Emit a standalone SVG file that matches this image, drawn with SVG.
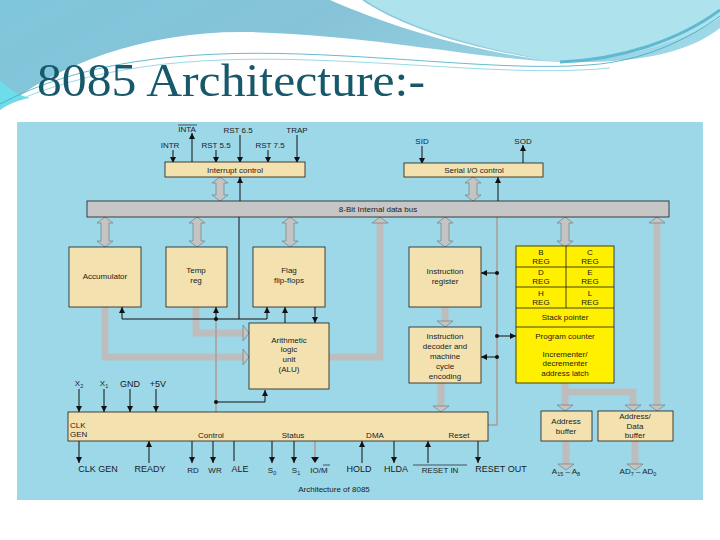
<svg xmlns="http://www.w3.org/2000/svg" width="720" height="540" viewBox="0 0 720 540">
<style>
.t{font-family:"Liberation Sans",Arial,sans-serif;font-size:9px;fill:#1a1a1a}
.s{font-family:"Liberation Sans",Arial,sans-serif;font-size:8px;fill:#1a1a1a}
.m{text-anchor:middle}
.box{fill:#f3e2b0;stroke:#1a1a1a;stroke-width:0.8}
.reg{fill:#fff000;stroke:#1a1a1a;stroke-width:0.8}
.ln{stroke:#111;stroke-width:1;fill:none}
.thk{stroke:#bdbdbd;stroke-width:7;fill:none}
.thn{stroke:#a9a9a9;stroke-width:2;fill:none}
.hd{fill:#c4c4c4;stroke:#707070;stroke-width:0.6}
</style>
<defs>
<linearGradient id="sky" x1="0" y1="0" x2="1" y2="0.3">
<stop offset="0" stop-color="#7fc6da"/>
<stop offset="0.45" stop-color="#86c3d8"/>
<stop offset="1" stop-color="#9fd8e6"/>
</linearGradient>
<marker id="ah" viewBox="0 0 10 10" refX="10" refY="5" markerWidth="6" markerHeight="6" orient="auto" markerUnits="userSpaceOnUse">
<path d="M0,0 L10,5 L0,10 Z" fill="#111"/>
</marker>
<path id="d30" class="hd" d="M0,0 L8,6 L4,6 L4,24 L8,24 L0,30 L-8,24 L-4,24 L-4,6 L-8,6 Z"/>
<path id="d24" class="hd" d="M0,0 L8,6 L4,6 L4,18 L8,18 L0,24 L-8,18 L-4,18 L-4,6 L-8,6 Z"/>
<path id="hdn" class="hd" d="M-8,-6 L8,-6 L0,0 Z"/>
<path id="hup" class="hd" d="M-8,6 L8,6 L0,0 Z"/>
<path id="hrt" class="hd" d="M-6,-8 L-6,8 L0,0 Z"/>
</defs>
<rect width="720" height="540" fill="#ffffff"/>
<path d="M0,0 L720,0 L720,28 C690,52 640,64 560,62 C470,58 380,36 250,32 C150,30 60,62 0,110 Z" fill="url(#sky)"/>
<path d="M0,80 C10,90 20,96 30,98 C18,100 8,104 0,110 Z" fill="#6fdcea"/>
<path d="M345,0 L720,0 L720,18 C680,44 620,60 560,62 C470,48 400,24 365,0 Z" fill="#aee3ee"/>
<path d="M330,0 C390,26 470,52 560,62 C470,50 400,26 362,0 Z" fill="#ffffff"/>
<path d="M560,62 C620,60 680,40 720,10" stroke="#5fb9d0" stroke-width="3" fill="none"/>
<path d="M0,104 C80,62 180,50 300,54 C420,58 520,72 600,64 C650,58 690,38 720,16" stroke="#3fa9c2" stroke-width="0.8" fill="none"/>
<path d="M0,108 C90,66 190,56 310,60 C430,64 530,76 610,68" stroke="#7fd0df" stroke-width="0.8" fill="none"/>
<text x="37" y="96" font-family="Liberation Serif, Times New Roman, serif" font-size="47" fill="#17596b" textLength="388" lengthAdjust="spacingAndGlyphs">8085 Architecture:-</text>

<rect x="17" y="122" width="686" height="378" fill="#9dd8e9"/>

<g id="connectors">
<line class="ln" x1="173" y1="150" x2="173" y2="163" marker-end="url(#ah)"/>
<line class="ln" x1="192" y1="163" x2="192" y2="133" marker-end="url(#ah)"/>
<line class="ln" x1="216" y1="150" x2="216" y2="163" marker-end="url(#ah)"/>
<line class="ln" x1="240" y1="135" x2="240" y2="163" marker-end="url(#ah)"/>
<line class="ln" x1="268" y1="150" x2="268" y2="163" marker-end="url(#ah)"/>
<line class="ln" x1="297" y1="135" x2="297" y2="163" marker-end="url(#ah)"/>
<line class="ln" x1="422" y1="146" x2="422" y2="164" marker-end="url(#ah)"/>
<line class="ln" x1="523" y1="164" x2="523" y2="145" marker-end="url(#ah)"/>
<use href="#d24" x="220" y="177"/>
<line class="ln" x1="240" y1="201" x2="240" y2="177" marker-end="url(#ah)"/>
<use href="#d24" x="473" y="177"/>
<line class="ln" x1="498" y1="201" x2="498" y2="177" marker-end="url(#ah)"/>
<use href="#d30" x="105" y="217"/>
<use href="#d30" x="197" y="217"/>
<use href="#d30" x="290" y="217"/>
<use href="#d30" x="445" y="217"/>
<use href="#d30" x="565" y="217"/>
<path class="thk" d="M329,357 H380 V222"/>
<use href="#hup" x="380" y="217"/>
<path class="thk" d="M105,307 V357 H243"/>
<use href="#hrt" x="249" y="357"/>
<path class="thk" d="M196,307 V333 H243"/>
<use href="#hrt" x="249" y="333"/>
<line class="ln" x1="239" y1="217" x2="239" y2="319"/>
<line class="ln" x1="122" y1="319" x2="267" y2="319"/>
<line class="ln" x1="122" y1="319" x2="122" y2="307" marker-end="url(#ah)"/>
<line class="ln" x1="216" y1="319" x2="216" y2="307" marker-end="url(#ah)"/>
<line class="ln" x1="267" y1="319" x2="267" y2="307" marker-end="url(#ah)"/>
<line class="thn" x1="216" y1="319" x2="216" y2="412"/>
<circle cx="216" cy="319" r="2" fill="#111"/>
<path class="ln" d="M216,402 H265 V390" marker-end="url(#ah)"/>
<circle cx="216" cy="402" r="2" fill="#111"/>
<line class="ln" x1="285" y1="323" x2="285" y2="307" marker-end="url(#ah)"/>
<line class="ln" x1="315" y1="307" x2="315" y2="323" marker-end="url(#ah)"/>
<line class="thk" x1="445" y1="307" x2="445" y2="321"/>
<use href="#hdn" x="445" y="327"/>
<line class="thk" x1="441" y1="383" x2="441" y2="406"/>
<use href="#hdn" x="441" y="412"/>
<path class="thn" d="M497,217 V425 H488"/>
<line class="ln" x1="497" y1="273" x2="481" y2="273" marker-end="url(#ah)"/>
<circle cx="497" cy="273" r="2" fill="#111"/>
<line class="ln" x1="497" y1="357" x2="481" y2="357" marker-end="url(#ah)"/>
<circle cx="497" cy="357" r="2" fill="#111"/>
<line class="ln" x1="497" y1="336" x2="516" y2="336" marker-end="url(#ah)"/>
<circle cx="497" cy="336" r="2" fill="#111"/>
<path class="thk" d="M565,383 V405"/>
<use href="#hdn" x="565" y="411"/>
<path class="thk" d="M565,392 H633 V405"/>
<use href="#hdn" x="633" y="411"/>
<path class="thk" d="M657,222 V405"/>
<use href="#hup" x="657" y="217"/>
<use href="#hdn" x="657" y="411"/>
<path class="thk" d="M566,441 V464"/>
<use href="#hdn" x="566" y="470"/>
<path class="thk" d="M635,441 V464"/>
<use href="#hdn" x="635" y="470"/>
<line class="ln" x1="79" y1="389" x2="79" y2="412" marker-end="url(#ah)"/>
<line class="ln" x1="104" y1="389" x2="104" y2="412" marker-end="url(#ah)"/>
<line class="ln" x1="130" y1="389" x2="130" y2="412" marker-end="url(#ah)"/>
<line class="ln" x1="156" y1="389" x2="156" y2="412" marker-end="url(#ah)"/>
<line class="ln" x1="79" y1="441" x2="79" y2="463" marker-end="url(#ah)"/>
<line class="ln" x1="149" y1="463" x2="149" y2="441" marker-end="url(#ah)"/>
<line class="ln" x1="192" y1="441" x2="192" y2="463" marker-end="url(#ah)"/>
<line class="ln" x1="213" y1="441" x2="213" y2="463" marker-end="url(#ah)"/>
<line class="ln" x1="234" y1="441" x2="234" y2="461"/>
<line class="ln" x1="272" y1="441" x2="272" y2="463" marker-end="url(#ah)"/>
<line class="ln" x1="294" y1="441" x2="294" y2="463" marker-end="url(#ah)"/>
<line class="thn" x1="315" y1="441" x2="315" y2="457"/>
<path d="M311,457 L319,457 L315,463 Z" fill="#111"/>
<line class="ln" x1="362" y1="463" x2="362" y2="441" marker-end="url(#ah)"/>
<line class="ln" x1="394" y1="441" x2="394" y2="463" marker-end="url(#ah)"/>
<line class="ln" x1="428" y1="463" x2="428" y2="441" marker-end="url(#ah)"/>
<line class="ln" x1="478" y1="441" x2="478" y2="463" marker-end="url(#ah)"/>
</g>

<g id="node-interrupt">
<rect class="box" x="165" y="162" width="140" height="15"/>
<text class="s m" x="235" y="172.5">Interrupt control</text>
</g>
<g id="node-interrupt-labels">
<text class="s m" x="187" y="132">INTA</text>
<line x1="178" y1="125" x2="197" y2="125" stroke="#1a1a1a" stroke-width="0.7"/>
<text class="s m" x="238" y="133">RST 6.5</text>
<text class="s m" x="297" y="133">TRAP</text>
<text class="s m" x="170" y="148">INTR</text>
<text class="s m" x="216" y="148">RST 5.5</text>
<text class="s m" x="270" y="148">RST 7.5</text>
<text class="s m" x="422" y="144">SID</text>
<text class="s m" x="523" y="144">SOD</text>
</g>
<g id="node-serial">
<rect class="box" x="404" y="163" width="139" height="14"/>
<text class="s m" x="474" y="173">Serial I/O control</text>
</g>
<g id="node-bus">
<rect x="87" y="201" width="582" height="16" fill="#c6c6c6" stroke="#1a1a1a" stroke-width="0.8"/>
<text class="s m" x="378" y="211.5">8-Bit Internal data bus</text>
</g>
<g id="node-acc">
<rect class="box" x="69" y="247" width="72" height="60"/>
<text class="s m" x="105" y="279">Accumulator</text>
</g>
<g id="node-temp">
<rect class="box" x="166" y="247" width="61" height="60"/>
<text class="s m" x="196" y="273">Temp</text>
<text class="s m" x="196" y="283">reg</text>
</g>
<g id="node-flag">
<rect class="box" x="253" y="247" width="72" height="60"/>
<text class="s m" x="289" y="273">Flag</text>
<text class="s m" x="289" y="283">flip-flops</text>
</g>
<g id="node-alu">
<rect class="box" x="249" y="323" width="80" height="66"/>
<text class="s m" x="289" y="343">Arithmetic</text>
<text class="s m" x="289" y="352">logic</text>
<text class="s m" x="289" y="362">unit</text>
<text class="s m" x="289" y="372">(ALU)</text>
</g>
<g id="node-ir">
<rect class="box" x="409" y="247" width="72" height="60"/>
<text class="s m" x="445" y="274">Instruction</text>
<text class="s m" x="445" y="284">register</text>
</g>
<g id="node-decoder">
<rect class="box" x="409" y="327" width="72" height="56"/>
<text class="s m" x="445" y="339">Instruction</text>
<text class="s m" x="445" y="349">decoder and</text>
<text class="s m" x="445" y="359">machine</text>
<text class="s m" x="445" y="369">cycle</text>
<text class="s m" x="445" y="379">encoding</text>
</g>
<g id="node-regs">
<rect class="reg" x="516" y="246" width="98" height="137"/>
<line x1="566" y1="246" x2="566" y2="308" stroke="#1a1a1a" stroke-width="0.8"/>
<line x1="516" y1="267" x2="614" y2="267" stroke="#1a1a1a" stroke-width="0.8"/>
<line x1="516" y1="287" x2="614" y2="287" stroke="#1a1a1a" stroke-width="0.8"/>
<line x1="516" y1="308" x2="614" y2="308" stroke="#1a1a1a" stroke-width="0.8"/>
<line x1="516" y1="327" x2="614" y2="327" stroke="#1a1a1a" stroke-width="0.8"/>
<text class="s m" x="541" y="255">B</text>
<text class="s m" x="541" y="264">REG</text>
<text class="s m" x="590" y="255">C</text>
<text class="s m" x="590" y="264">REG</text>
<text class="s m" x="541" y="275">D</text>
<text class="s m" x="541" y="284">REG</text>
<text class="s m" x="590" y="275">E</text>
<text class="s m" x="590" y="284">REG</text>
<text class="s m" x="541" y="296">H</text>
<text class="s m" x="541" y="305">REG</text>
<text class="s m" x="590" y="296">L</text>
<text class="s m" x="590" y="305">REG</text>
<text class="s m" x="565" y="320">Stack pointer</text>
<text class="s m" x="565" y="339">Program counter</text>
<text class="s m" x="565" y="357">Incrementer/</text>
<text class="s m" x="565" y="366">decrementer</text>
<text class="s m" x="565" y="376">address latch</text>
</g>
<g id="node-addrbuf">
<rect class="box" x="541" y="411" width="51" height="30"/>
<text class="s m" x="566" y="424">Address</text>
<text class="s m" x="566" y="434">buffer</text>
</g>
<g id="node-adbuf">
<rect class="box" x="598" y="411" width="75" height="30"/>
<text class="s m" x="635" y="419">Address/</text>
<text class="s m" x="635" y="429">Data</text>
<text class="s m" x="635" y="438">buffer</text>
</g>
<g id="node-timing">
<rect class="box" x="68" y="412" width="420" height="29"/>
<text class="s" x="70" y="428">CLK</text>
<text class="s" x="70" y="437">GEN</text>
<text class="s m" x="211" y="438">Control</text>
<text class="s m" x="293" y="438">Status</text>
<text class="s m" x="375" y="438">DMA</text>
<text class="s m" x="459" y="438">Reset</text>
</g>
<g id="pin-labels">
<text class="s m" x="79" y="386">X<tspan font-size="5.5" dy="2">2</tspan></text>
<text class="s m" x="104" y="386">X<tspan font-size="5.5" dy="2">1</tspan></text>
<text class="t m" x="130" y="387">GND</text>
<text class="t m" x="158" y="387">+5V</text>
<text class="t m" x="98" y="472">CLK GEN</text>
<text class="t m" x="150" y="472">READY</text>
<text class="s m" x="193" y="473">RD</text>
<text class="s m" x="215" y="473">WR</text>
<text class="t m" x="240" y="472">ALE</text>
<text class="s m" x="272" y="473">S<tspan font-size="5.5" dy="2">0</tspan></text>
<text class="s m" x="296" y="473">S<tspan font-size="5.5" dy="2">1</tspan></text>
<text class="s m" x="319" y="473">IO/M</text>
<line x1="323" y1="465" x2="330" y2="465" stroke="#1a1a1a" stroke-width="0.7"/>
<text class="t m" x="359" y="472">HOLD</text>
<text class="t m" x="396" y="472">HLDA</text>
<text class="s m" x="440" y="473">RESET IN</text>
<line x1="413" y1="465" x2="467" y2="465" stroke="#1a1a1a" stroke-width="0.7"/>
<text class="t m" x="501" y="472">RESET OUT</text>
<text class="s m" x="566" y="474">A<tspan font-size="5.5" dy="2">15</tspan><tspan dy="-2"> – A</tspan><tspan font-size="5.5" dy="2">8</tspan></text>
<text class="s m" x="638" y="474">AD<tspan font-size="5.5" dy="2">7</tspan><tspan dy="-2"> – AD</tspan><tspan font-size="5.5" dy="2">0</tspan></text>
<text class="s m" x="334" y="492">Architecture of 8085</text>
</g>
</svg>
